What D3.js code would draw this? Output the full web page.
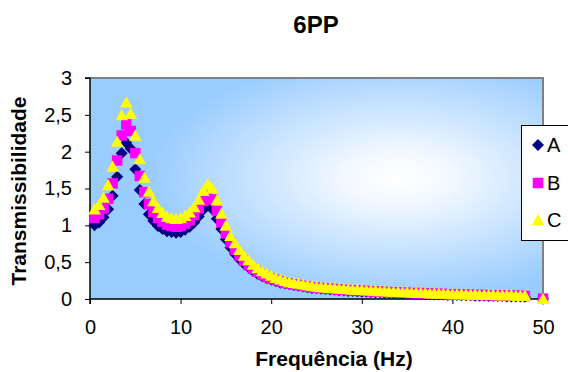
<!DOCTYPE html>
<html><head><meta charset="utf-8">
<script src="https://cdn.jsdelivr.net/npm/d3@7"></script>
<style>body{margin:0;background:#fff}svg{display:block;font-family:"Liberation Sans",Arial,sans-serif}</style>
</head><body><svg id="c" width="568" height="372"></svg>
<script>
const title = "6PP";
const xTitle = "Frequência (Hz)";
const yTitle = "Transmissibilidade";
const seriesNames = ["A","B","C"];
const xTicks = [0,10,20,30,40,50];
const xTickLabels = ["0","10","20","30","40","50"];
const yTicks = [0,0.5,1,1.5,2,2.5,3];
const yTickLabels = ["0","0,5","1","1,5","2","2,5","3"];
const freq = [0.5,1,1.5,2,2.5,3,3.5,4,4.5,5,5.5,6,6.5,7,7.5,8,8.5,9,9.5,10,
 10.5,11,11.5,12,12.5,13,13.5,14,14.5,15,15.5,16,16.5,17,17.5,18,18.5,19,19.5,20,
 20.5,21,21.5,22,22.5,23,23.5,24,24.5,25,25.5,26,26.5,27,27.5,28,28.5,29,29.5,30,
 30.5,31,31.5,32,32.5,33,33.5,34,34.5,35,35.5,36,36.5,37,37.5,38,38.5,39,39.5,40,
 40.5,41,41.5,42,42.5,43,43.5,44,44.5,45,45.5,46,46.5,47,47.5,48,50];
const valuesA = [1.00,1.04,1.11,1.22,1.40,1.66,1.98,2.12,2.04,1.76,1.48,1.29,1.15,1.06,0.99,0.95,0.92,0.91,0.90,0.91,
 0.94,0.98,1.04,1.12,1.21,1.27,1.22,1.09,0.95,0.81,0.70,0.61,0.54,0.48,0.43,0.38,0.34,0.31,0.28,0.26,
 0.24,0.22,0.21,0.20,0.19,0.18,0.17,0.16,0.15,0.145,0.14,0.135,0.13,0.125,0.12,0.115,0.11,0.11,0.105,0.10,
 0.10,0.095,0.09,0.09,0.085,0.085,0.08,0.08,0.075,0.075,0.07,0.07,0.07,0.065,0.065,0.06,0.06,0.06,0.055,0.055,
 0.055,0.05,0.05,0.05,0.045,0.045,0.045,0.04,0.04,0.04,0.04,0.035,0.035,0.035,0.035,0.03,0.005];
const valuesB = [1.10,1.15,1.23,1.36,1.57,1.88,2.22,2.37,2.28,1.98,1.67,1.45,1.29,1.18,1.10,1.05,1.01,0.99,0.98,0.99,
 1.02,1.07,1.14,1.23,1.33,1.40,1.35,1.20,1.04,0.89,0.77,0.67,0.59,0.52,0.46,0.41,0.37,0.33,0.30,0.28,
 0.26,0.24,0.22,0.21,0.20,0.19,0.18,0.17,0.16,0.155,0.15,0.145,0.14,0.135,0.13,0.125,0.12,0.12,0.115,0.11,
 0.11,0.105,0.10,0.10,0.095,0.095,0.09,0.09,0.085,0.085,0.08,0.08,0.08,0.075,0.075,0.07,0.07,0.07,0.065,0.065,
 0.065,0.06,0.06,0.06,0.055,0.055,0.055,0.05,0.05,0.05,0.05,0.045,0.045,0.045,0.045,0.04,0.005];
const valuesC = [1.22,1.28,1.38,1.55,1.80,2.14,2.50,2.67,2.52,2.22,1.90,1.65,1.46,1.33,1.24,1.17,1.12,1.10,1.09,1.10,
 1.13,1.18,1.25,1.35,1.47,1.56,1.50,1.34,1.16,1.00,0.86,0.76,0.67,0.59,0.53,0.47,0.42,0.38,0.35,0.32,
 0.29,0.27,0.25,0.23,0.22,0.21,0.20,0.19,0.18,0.17,0.165,0.16,0.155,0.15,0.145,0.14,0.135,0.13,0.13,0.125,
 0.12,0.12,0.115,0.11,0.11,0.105,0.10,0.10,0.095,0.095,0.09,0.09,0.085,0.085,0.08,0.08,0.08,0.075,0.075,0.07,
 0.07,0.07,0.065,0.065,0.065,0.06,0.06,0.06,0.06,0.055,0.055,0.055,0.055,0.05,0.05,0.05,0.005];
const colors = ["#000080","#ff00ff","#ffff00"];

const svg = d3.select("#c");
const L=90,R=543,T=78,B=299;
const x = d3.scaleLinear().domain([0,50]).range([L,R]);
const y = d3.scaleLinear().domain([0,3]).range([B,T]);

const defs = svg.append("defs");
const g = defs.append("radialGradient").attr("id","bg").attr("cx",0.68).attr("cy",0.45).attr("r",0.55).attr("fx",0.68).attr("fy",0.45);
g.append("stop").attr("offset","0").attr("stop-color","#ffffff");
g.append("stop").attr("offset","0.2").attr("stop-color","#f4f9ff");
g.append("stop").attr("offset","1").attr("stop-color","#99ccff");

svg.append("rect").attr("x",L).attr("y",T).attr("width",R-L).attr("height",B-T).attr("fill","url(#bg)");
svg.append("path").attr("d",`M${L},${T}H${R}V${B}`).attr("fill","none").attr("stroke","#808080").attr("stroke-width",2);

const fmtY = d => yTickLabels[yTicks.indexOf(d)];
const fmtX = d => xTickLabels[xTicks.indexOf(d)];
const ya = svg.append("g").attr("transform",`translate(${L},0)`)
  .call(d3.axisLeft(y).tickValues(yTicks).tickFormat(fmtY).tickSize(5).tickPadding(13));
const xa = svg.append("g").attr("transform",`translate(0,${B})`)
  .call(d3.axisBottom(x).tickValues(xTicks).tickFormat(fmtX).tickSize(5).tickPadding(16));
[ya,xa].forEach(a=>{
  a.select(".domain").attr("stroke","#000").attr("stroke-width",1.5);
  a.selectAll(".tick line").attr("stroke","#000");
  a.selectAll(".tick text").attr("font-size",20).attr("fill","#000").attr("font-family","Liberation Sans, Arial, sans-serif");
});
ya.select(".domain").attr("d",`M-5,${T}H0V${B}`);
xa.select(".domain").attr("d",`M${L},5V0H${R}`);

function diamond(s){const h=s/2;return `M0,${-h}L${h},0L0,${h}L${-h},0Z`;}
function square(s){const h=s/2;return `M${-h},${-h}H${h}V${h}H${-h}Z`;}
function triangle(s){const h=s/2;return `M0,${-h*0.95}L${h},${h*0.85}L${-h},${h*0.85}Z`;}
const shapes = [()=>diamond(12), ()=>square(10.5), ()=>triangle(12.5)];
const allVals = [valuesA,valuesB,valuesC];

allVals.forEach((vals,si)=>{
  svg.append("g").selectAll("path").data(freq.map((f,i)=>[f,vals[i]])).join("path")
    .attr("transform",d=>`translate(${x(d[0])},${y(d[1])})`)
    .attr("d",shapes[si]()).attr("fill",colors[si]);
});

svg.append("text").attr("x",316).attr("y",33).attr("text-anchor","middle")
  .attr("font-size",24).attr("font-weight","bold").text(title);
svg.append("text").attr("x",334).attr("y",366).attr("text-anchor","middle")
  .attr("font-size",21).attr("font-weight","bold").text(xTitle);
svg.append("text").attr("transform","translate(26,191) rotate(-90)").attr("text-anchor","middle")
  .attr("font-size",21).attr("font-weight","bold").text(yTitle);

const lg = svg.append("g");
lg.append("rect").attr("x",521.5).attr("y",125.5).attr("width",60).attr("height",115)
  .attr("fill","#fff").attr("stroke","#000").attr("stroke-width",1);
const ly = [145,183,220];
seriesNames.forEach((n,i)=>{
  lg.append("path").attr("transform",`translate(538,${ly[i]})`).attr("d",shapes[i]()).attr("fill",colors[i]);
  lg.append("text").attr("x",547).attr("y",ly[i]).attr("dy","0.36em").attr("font-size",20).text(n);
});
</script></body></html>
